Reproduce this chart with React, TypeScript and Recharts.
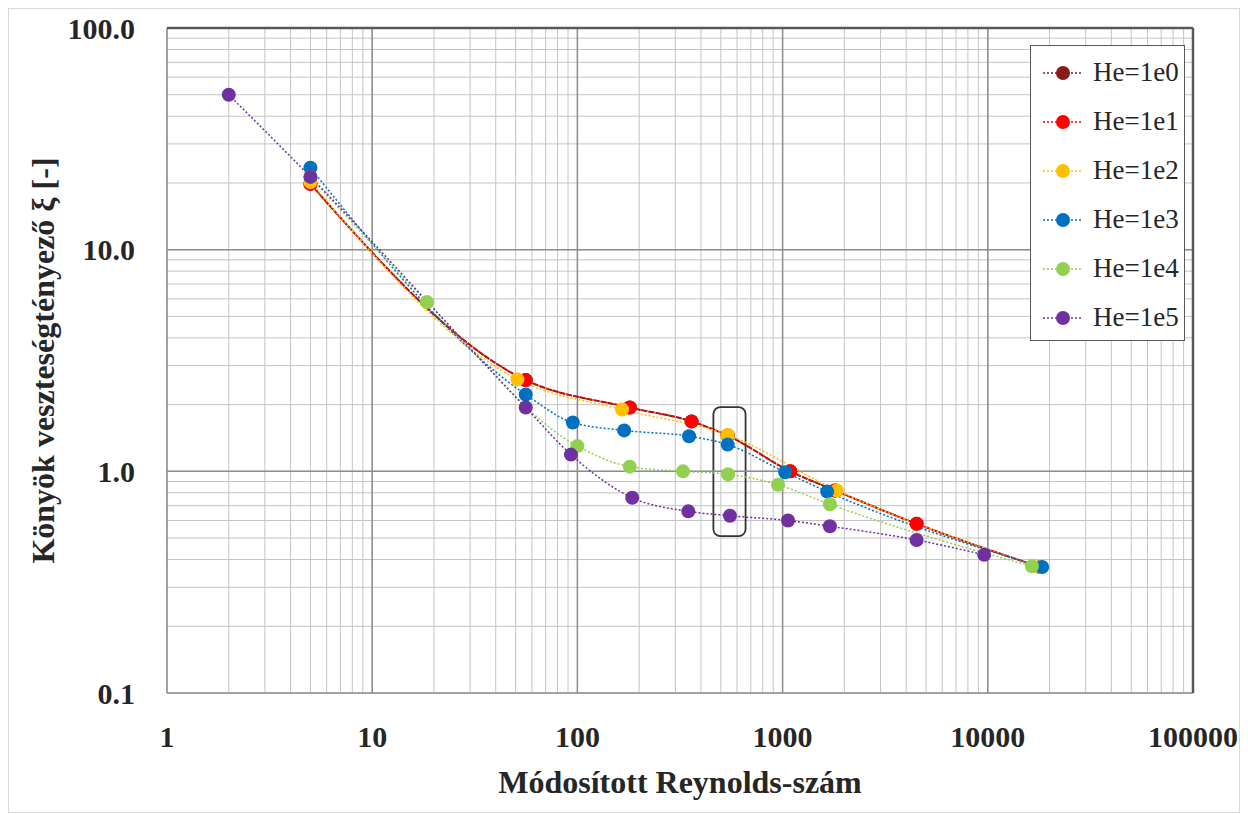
import { LineChart, Line, XAxis, YAxis, CartesianGrid, ReferenceLine, ReferenceArea, Legend } from 'recharts'

// Módosított Reynolds-szám (x) és könyök veszteségtényező (y), He sorozatonként
const he0X = [5, 56, 180, 360, 540, 1090, 1800, 4500, 18000]
const he0Y = [19.8, 2.58, 1.94, 1.68, 1.45, 1.0, 0.82, 0.58, 0.37]
const he1X = [5, 56, 180, 360, 540, 1090, 1800, 4500, 18000]
const he1Y = [19.8, 2.58, 1.94, 1.68, 1.45, 1.0, 0.82, 0.58, 0.37]
const he2X = [5, 51, 165, 540, 1840, 18000]
const he2Y = [20.2, 2.6, 1.9, 1.46, 0.82, 0.37]
const he3X = [5, 56, 95, 169, 350, 540, 1030, 1650, 18400]
const he3Y = [23.4, 2.22, 1.66, 1.53, 1.44, 1.32, 0.99, 0.81, 0.37]
const he4X = [5, 18.5, 100, 180, 327, 542, 950, 1700, 16400]
const he4Y = [21.3, 5.8, 1.3, 1.05, 1.0, 0.97, 0.87, 0.71, 0.373]
const he5X = [2, 5, 56, 93, 185, 347, 554, 1063, 1700, 4500, 9600]
const he5Y = [50, 21.3, 1.94, 1.19, 0.76, 0.66, 0.63, 0.6, 0.565, 0.49, 0.42]

const seriesNames = ['He=1e0', 'He=1e1', 'He=1e2', 'He=1e3', 'He=1e4', 'He=1e5']
const seriesColors = ['#8b1a1a', '#ff0000', '#ffc000', '#0070c0', '#92d050', '#7030a0']

const xMajor = [1, 10, 100, 1000, 10000, 100000]
const xMajorLabels = ['1', '10', '100', '1000', '10000', '100000']
const xTicks = [
  1, 2, 3, 4, 5, 6, 7, 8, 9,
  10, 20, 30, 40, 50, 60, 70, 80, 90,
  100, 200, 300, 400, 500, 600, 700, 800, 900,
  1000, 2000, 3000, 4000, 5000, 6000, 7000, 8000, 9000,
  10000, 20000, 30000, 40000, 50000, 60000, 70000, 80000, 90000,
  100000,
]
const yMajor = [0.1, 1, 10, 100]
const yMajorLabels = ['0.1', '1.0', '10.0', '100.0']
const yTicks = [
  0.1, 0.2, 0.3, 0.4, 0.5, 0.6, 0.7, 0.8, 0.9,
  1, 2, 3, 4, 5, 6, 7, 8, 9,
  10, 20, 30, 40, 50, 60, 70, 80, 90,
  100,
]

const xs = [he0X, he1X, he2X, he3X, he4X, he5X]
const ys = [he0Y, he1Y, he2Y, he3Y, he4Y, he5Y]
const series = seriesNames.map((name, i) => ({
  name,
  color: seriesColors[i],
  data: xs[i].map((x, j) => ({ x, y: ys[i][j] })),
}))

const serif = '"Liberation Serif", "Times New Roman", serif'
const tickStyle = { fill: '#262626', fontFamily: serif, fontWeight: 700, fontSize: 30 }

const fmtX = (v: number) => {
  const i = xMajor.indexOf(v)
  return i >= 0 ? xMajorLabels[i] : ''
}
const fmtY = (v: number) => {
  const i = yMajor.findIndex((m) => Math.abs(m - v) < 1e-9)
  return i >= 0 ? yMajorLabels[i] : ''
}

function LegendBox() {
  return (
    <div
      style={{
        width: 155,
        height: 296,
        boxSizing: 'border-box',
        border: '1.5px solid #595959',
        background: '#fff',
        paddingTop: 2,
      }}
    >
      {series.map((s) => (
        <div key={s.name} style={{ display: 'flex', alignItems: 'center', height: 49 }}>
          <svg width={44} height={16} style={{ marginLeft: 10 }}>
            <line x1={2} y1={8} x2={42} y2={8} stroke={s.color} strokeWidth={1.5} strokeDasharray="2 2" />
            <circle cx={22} cy={8} r={7} fill={s.color} />
          </svg>
          <span style={{ marginLeft: 8, fontFamily: serif, fontSize: 27, color: '#262626', lineHeight: 1 }}>
            {s.name}
          </span>
        </div>
      ))}
    </div>
  )
}

export default function App() {
  return (
    <div style={{ width: 1232, height: 805, border: '1px solid #d9d9d9', boxSizing: 'border-box', background: '#fff' }}>
      <LineChart width={1230} height={803} margin={{ top: 19, right: 46, left: 0, bottom: 9 }}>
        <CartesianGrid stroke="#c4c4c4" strokeWidth={1} />
        <XAxis
          dataKey="x"
          type="number"
          scale="log"
          domain={[1, 100000]}
          allowDataOverflow
          ticks={xTicks}
          interval={0}
          tickFormatter={fmtX}
          axisLine={false}
          tickLine={false}
          tickMargin={27}
          tick={tickStyle}
          height={110}
          label={{
            value: 'Módosított Reynolds-szám',
            position: 'insideBottom',
            offset: 10,
            style: { fill: '#262626', fontFamily: serif, fontWeight: 700, fontSize: 32 },
          }}
        />
        <YAxis
          dataKey="y"
          type="number"
          scale="log"
          domain={[0.1, 100]}
          allowDataOverflow
          ticks={yTicks}
          interval={0}
          tickFormatter={fmtY}
          axisLine={false}
          tickLine={false}
          tickMargin={26}
          tick={tickStyle}
          width={158}
          label={{
            value: 'Könyök veszteségtényező ξ [-]',
            angle: -90,
            position: 'insideLeft',
            offset: 34,
            style: { textAnchor: 'middle', fill: '#262626', fontFamily: serif, fontWeight: 700, fontSize: 32 },
          }}
        />
        {xMajor.map((v) => (
          <ReferenceLine key={'vx' + v} x={v} stroke="#8c8c8c" strokeWidth={1.5} />
        ))}
        {yMajor.map((v) => (
          <ReferenceLine key={'hy' + v} y={v} stroke="#8c8c8c" strokeWidth={1.5} />
        ))}
        <ReferenceLine y={100} stroke="#595959" strokeWidth={2.5} />
        <ReferenceLine x={100000} stroke="#595959" strokeWidth={2.5} />
        <ReferenceArea
          x1={460}
          x2={660}
          y1={0.51}
          y2={1.95}
          fill="none"
          fillOpacity={0}
          stroke="#333"
          strokeWidth={1.8}
          radius={7}
        />
        {series.map((s, i) => (
          <Line
            key={s.name}
            data={s.data}
            dataKey="y"
            name={s.name}
            type="monotone"
            stroke={s.color}
            strokeWidth={i === 0 ? 2 : 1.5}
            strokeDasharray={i === 0 ? '6 1' : '2 2'}
            dot={{ r: 7, fill: s.color, stroke: s.color, strokeWidth: 0 }}
            activeDot={false}
            isAnimationActive={false}
          />
        ))}
        <Legend
          layout="vertical"
          align="center"
          verticalAlign="middle"
          wrapperStyle={{ left: 1021, top: 36, width: 155 }}
          content={() => <LegendBox />}
        />
      </LineChart>
    </div>
  )
}
